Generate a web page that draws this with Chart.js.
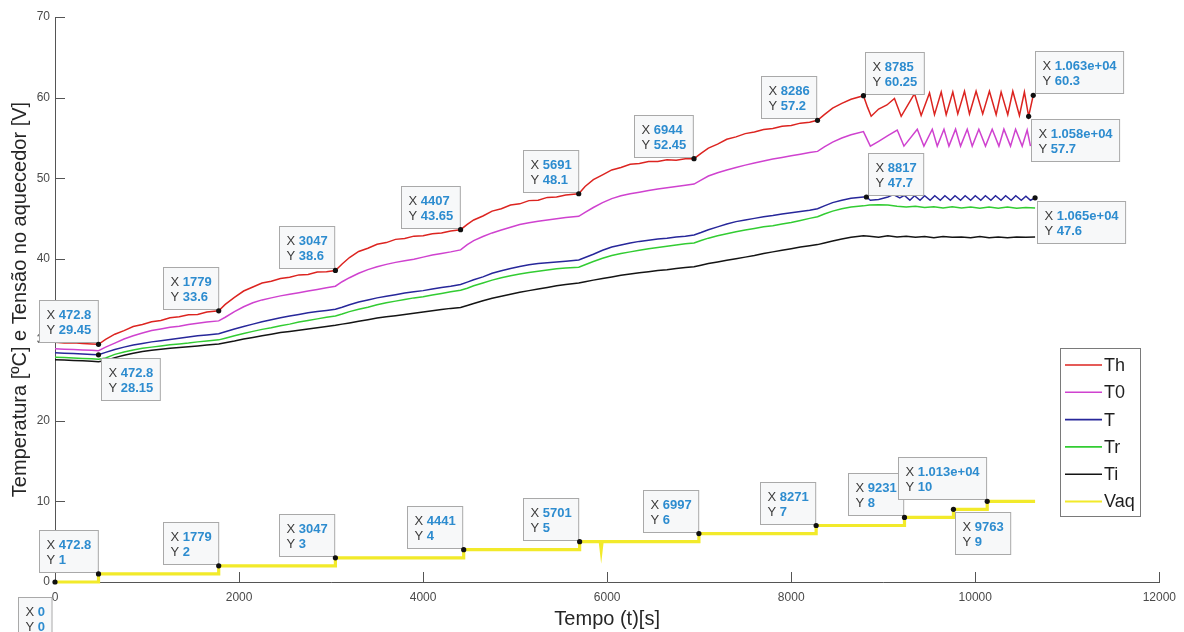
<!DOCTYPE html>
<html><head><meta charset="utf-8">
<script src="https://cdn.jsdelivr.net/npm/chart.js@4.4.1/dist/chart.umd.min.js"></script>
<style>html,body{margin:0;padding:0;background:#fff;}#wrap{width:1184px;height:632px;}</style>
</head><body><div id="wrap"><canvas id="c" width="1184" height="632"></canvas></div>
<script>
// ---- data ----
const baseTime = [0,100,200,300,400,472.8,
 550,650,750,850,950,1050,1150,1250,1350,1450,1550,1650,1779,
 1850,1950,2050,2150,2250,2350,2450,2550,2650,2750,2850,2950,3047,
 3120,3200,3300,3400,3500,3600,3700,3800,3900,4000,4100,4200,4300,4407,
 4480,4550,4650,4750,4850,4950,5050,5150,5250,5350,5450,5550,5691,
 5760,5850,5950,6050,6150,6250,6350,6450,6550,6650,6750,6850,6944,
 7020,7100,7200,7300,7400,7500,7600,7700,7800,7900,8000,8100,8200,8286,
 8360,8450,8550,8650,8785];
const thBase = [29.7,29.6,29.65,29.55,29.5,29.45,
 30.05,30.7,31.15,31.65,31.9,32.25,32.4,32.75,32.85,33.1,33.15,33.45,33.6,
 34.4,35.25,36.05,36.55,37.05,37.25,37.6,37.75,38.05,38.1,38.4,38.45,38.6,
 39.4,40.2,40.95,41.35,41.85,42.05,42.45,42.55,42.85,42.9,43.15,43.25,43.5,43.65,
 44.3,44.85,45.35,45.95,46.25,46.7,46.85,47.25,47.3,47.65,47.7,47.95,48.1,
 49.0,49.85,50.45,51.05,51.35,51.75,51.85,52.1,52.1,52.3,52.25,52.45,52.45,
 53.1,53.75,54.25,54.85,55.15,55.55,55.75,56.05,56.2,56.45,56.55,56.85,56.95,57.2,
 57.9,58.7,59.3,59.8,60.25];
const t0Base = [28.9,28.85,28.8,28.75,28.7,28.65,
 29.1,29.6,30.1,30.5,30.85,31.15,31.35,31.55,31.7,31.9,32.05,32.2,32.35,
 32.8,33.5,34.1,34.6,34.95,35.2,35.45,35.65,35.85,36.05,36.25,36.45,36.65,
 37.2,37.7,38.25,38.7,39.05,39.35,39.6,39.8,40.0,40.25,40.5,40.7,40.9,41.15,
 41.8,42.3,42.8,43.25,43.6,43.95,44.3,44.5,44.7,44.85,45.0,45.15,45.3,
 45.8,46.4,47.0,47.5,47.85,48.1,48.3,48.5,48.7,48.85,49.0,49.15,49.3,
 49.8,50.3,50.7,51.05,51.35,51.65,51.9,52.15,52.4,52.6,52.8,53.0,53.2,53.35,
 53.9,54.5,55.0,55.4,55.8];
const tBase = [28.4,28.35,28.3,28.25,28.2,28.15,
 28.45,28.8,29.1,29.35,29.55,29.75,29.9,30.05,30.2,30.35,30.5,30.6,30.75,
 31.0,31.35,31.65,31.95,32.25,32.5,32.75,32.95,33.15,33.35,33.5,33.65,33.8,
 34.05,34.35,34.7,34.95,35.2,35.4,35.6,35.8,35.95,36.1,36.3,36.5,36.65,36.85,
 37.15,37.45,37.8,38.25,38.55,38.85,39.1,39.3,39.45,39.55,39.65,39.75,39.9,
 40.2,40.6,41.1,41.5,41.75,42.0,42.2,42.35,42.5,42.6,42.75,42.85,43.0,
 43.3,43.65,44.0,44.35,44.65,44.85,45.05,45.25,45.4,45.6,45.75,45.9,46.05,46.25,
 46.6,47.0,47.3,47.55,47.7];
const trBase = [27.85,27.8,27.75,27.7,27.65,27.6,
 27.75,28.2,28.5,28.75,28.95,29.1,29.25,29.4,29.5,29.6,29.75,29.85,30.0,
 30.2,30.5,30.8,31.05,31.3,31.5,31.75,31.95,32.2,32.4,32.6,32.8,32.95,
 33.2,33.5,33.8,34.05,34.35,34.6,34.8,35.0,35.2,35.35,35.55,35.75,35.95,36.15,
 36.4,36.7,37.05,37.4,37.7,37.95,38.15,38.35,38.5,38.65,38.8,38.9,39.0,
 39.3,39.7,40.1,40.45,40.7,40.9,41.1,41.3,41.45,41.6,41.75,41.9,42.0,
 42.3,42.6,42.9,43.15,43.4,43.6,43.8,44.0,44.15,44.35,44.55,44.8,45.05,45.25,
 45.6,45.95,46.25,46.45,46.6];
const tiBase = [27.55,27.5,27.45,27.4,27.35,27.3,
 27.45,27.8,28.1,28.35,28.55,28.7,28.85,28.95,29.05,29.15,29.25,29.35,29.5,
 29.65,29.85,30.1,30.3,30.5,30.7,30.9,31.05,31.2,31.35,31.5,31.65,31.8,
 31.95,32.1,32.3,32.5,32.7,32.85,33.0,33.15,33.3,33.45,33.6,33.75,33.9,34.0,
 34.25,34.5,34.85,35.15,35.4,35.65,35.9,36.1,36.3,36.5,36.7,36.85,37.05,
 37.2,37.4,37.6,37.8,38.0,38.15,38.3,38.45,38.6,38.7,38.85,38.95,39.05,
 39.25,39.45,39.65,39.85,40.05,40.25,40.45,40.7,40.9,41.1,41.3,41.5,41.65,41.8,
 42.0,42.25,42.5,42.7,42.9];

const thOscTime = [8830,8869,8950,9040,9122,9195,9340,9412,9503,9557,9630,9684,9756,9810,9883,9937,10009,10081,10154,10227,10281,10353,10408,10480,10534,10580,10630];
const thOscVal  = [58.8,57.7,58.6,59.1,59.9,57.7,60.5,57.8,60.6,57.9,60.7,57.9,60.7,58.0,60.8,58.0,60.8,58.0,60.8,57.9,60.7,57.9,60.8,57.8,60.7,57.7,60.3];
const t0OscTime = [8860,8950,9050,9152,9225,9370,9442,9533,9587,9660,9714,9786,9840,9913,9967,10039,10111,10184,10257,10311,10383,10438,10510,10564,10600];
const t0OscVal  = [54.0,54.6,55.3,56.0,54.0,56.1,54.0,56.1,54.0,56.1,54.0,56.1,54.0,56.1,54.0,56.1,54.0,56.1,54.0,56.1,54.0,56.1,54.0,56.0,54.0];
const tOscTime = [8817,8860,8950,9050,9110,9180,9230,9290,9340,9400,9450,9510,9560,9620,9670,9730,9780,9840,9890,9950,10000,10060,10110,10170,10220,10280,10330,10390,10440,10500,10550,10600,10650];
const tOscVal  = [47.7,47.3,47.4,47.7,48.0,47.6,47.9,47.3,47.85,47.3,47.85,47.3,47.85,47.3,47.85,47.3,47.85,47.3,47.85,47.3,47.85,47.3,47.85,47.3,47.85,47.3,47.85,47.3,47.85,47.3,47.8,47.3,47.6];
const trOscTime = [8850,8950,9050,9150,9250,9350,9450,9550,9650,9750,9850,9950,10050,10150,10250,10350,10450,10550,10650];
const trOscVal  = [46.7,46.75,46.7,46.55,46.45,46.55,46.4,46.5,46.35,46.5,46.35,46.45,46.3,46.45,46.3,46.45,46.3,46.4,46.35];
const tiOscTime = [8850,8950,9050,9150,9250,9350,9450,9550,9650,9750,9850,9950,10050,10150,10250,10350,10450,10550,10650];
const tiOscVal  = [42.85,42.7,42.9,42.75,42.85,42.7,42.8,42.65,42.8,42.7,42.75,42.65,42.8,42.65,42.75,42.65,42.75,42.7,42.75];

const vaqTime = [0,472.8,472.8,1779,1779,3047,3047,4441,4441,5701,5701,5925,5935,5945,6997,6997,8271,8271,9231,9231,9763,9763,10130,10130,10650];
const vaqVal  = [0,0,1,1,2,2,3,3,4,4,5,5,4,5,5,6,6,7,7,8,8,9,9,10,10];

const seriesNames = ['Th','T0','T','Tr','Ti','Vaq'];
const xTickValues = [0,2000,4000,6000,8000,10000,12000];
const yTickValues = [0,10,20,30,40,50,60,70];

// data tips
const tipX = [472.8,1779,3047,4407,5691,6944,8286,8785,10630,10580,472.8,8817,10650,0,472.8,1779,3047,4441,5701,6997,8271,9231,10130,9763];
const tipY = [29.45,33.6,38.6,43.65,48.1,52.45,57.2,60.25,60.3,57.7,28.15,47.7,47.6,0,1,2,3,4,5,6,7,8,10,9];
const tipXLabel = ['472.8','1779','3047','4407','5691','6944','8286','8785','1.063e+04','1.058e+04','472.8','8817','1.065e+04','0','472.8','1779','3047','4441','5701','6997','8271','9231','1.013e+04','9763'];
const tipYLabel = ['29.45','33.6','38.6','43.65','48.1','52.45','57.2','60.25','60.3','57.7','28.15','47.7','47.6','0','1','2','3','4','5','6','7','8','10','9'];
const tipSide = ['ul','ul','ul','ul','ul','ul','ul','ur','ur','dr','dr','ur','dr','dl','ul','ul','ul','ul','ul','ul','ul','ul','ul','dr'];

// ---- build ----
const FONT = "'Liberation Sans', Arial, Helvetica, sans-serif";
const colors = ['#dc2420','#cf42cf','#27279a','#32cc32','#141414','#f2ea2a'];
function pairs(ts, vs){ return ts.map((t,i)=>({x:t, y:vs[i]})); }
const seriesData = [
  pairs(baseTime, thBase).concat(pairs(thOscTime, thOscVal)),
  pairs(baseTime, t0Base).concat(pairs(t0OscTime, t0OscVal)),
  pairs(baseTime, tBase).concat(pairs(tOscTime, tOscVal)),
  pairs(baseTime, trBase).concat(pairs(trOscTime, trOscVal)),
  pairs(baseTime, tiBase).concat(pairs(tiOscTime, tiOscVal)),
  pairs(vaqTime, vaqVal)
];
const datasets = seriesNames.map((n,i)=>({
  label:n, data:seriesData[i], borderColor:colors[i], backgroundColor:colors[i],
  borderWidth: i===5 ? 3.2 : 1.5, pointRadius:0, tension:0, fill:false, clip:false,
  order: i===5 ? -1 : i
}));

const inwardTicks = {
  id:'inwardTicks',
  beforeDatasetsDraw(chart){
    const {ctx, chartArea:a, scales:{x,y}} = chart;
    ctx.save(); ctx.strokeStyle='#555'; ctx.lineWidth=1; ctx.beginPath();
    xTickValues.forEach(v=>{ const p=Math.round(x.getPixelForValue(v))+0.5; ctx.moveTo(p,a.bottom); ctx.lineTo(p,a.bottom-10); });
    yTickValues.forEach(v=>{ const p=Math.round(y.getPixelForValue(v))+0.5; ctx.moveTo(a.left,p); ctx.lineTo(a.left+10,p); });
    ctx.stroke(); ctx.restore();
  }
};

const dataTips = {
  id:'dataTips',
  afterDraw(chart){
    const {ctx, scales:{x,y}} = chart;
    ctx.save();
    const pad=7, h=42;
    tipX.forEach((tx,i)=>{
      const px=x.getPixelForValue(tx), py=y.getPixelForValue(tipY[i]);
      ctx.font = "13px "+FONT; const wX = ctx.measureText('X ').width, wY = ctx.measureText('Y ').width;
      ctx.font = "bold 13px "+FONT;
      const w1 = wX + ctx.measureText(tipXLabel[i]).width, w2 = wY + ctx.measureText(tipYLabel[i]).width;
      const w = Math.max(w1,w2) + 2*pad;
      let bx, by; const s=tipSide[i];
      if(s==='ul'){ bx=px-1-w; by=py-2-h; }
      else if(s==='ur'){ bx=px+2; by=py-2-h; }
      else if(s==='dr'){ bx=px+2; by=py+3; }
      else { bx=px-3-w; by=py+15; }
      bx=Math.round(bx)+0.5; by=Math.round(by)+0.5;
      ctx.fillStyle='#f7f8f9'; ctx.strokeStyle='#a9a9a9'; ctx.lineWidth=1;
      ctx.fillRect(bx,by,w,h); ctx.strokeRect(bx,by,w,h);
      ctx.textBaseline='middle'; ctx.textAlign='left';
      ctx.font="13px "+FONT; ctx.fillStyle='#3c3c3c';
      ctx.fillText('X', bx+pad, by+15); ctx.fillText('Y', bx+pad, by+30);
      ctx.font="bold 13px "+FONT; ctx.fillStyle='#2d8ccf';
      ctx.fillText(tipXLabel[i], bx+pad+wX, by+15); ctx.fillText(tipYLabel[i], bx+pad+wY, by+30);
      ctx.fillStyle='#111'; ctx.beginPath(); ctx.arc(px,py,2.6,0,Math.PI*2); ctx.fill();
    });
    ctx.restore();
  }
};

const legendBox = {
  id:'legendBox',
  afterDraw(chart){
    const {ctx}=chart; ctx.save();
    const lx=1060.5, ly=348.5, lw=80, lh=168;
    ctx.fillStyle='#fff'; ctx.fillRect(lx,ly,lw,lh);
    ctx.strokeStyle='#7a7a7a'; ctx.lineWidth=1; ctx.strokeRect(lx,ly,lw,lh);
    ctx.font="18px "+FONT; ctx.textBaseline='middle'; ctx.textAlign='left';
    seriesNames.forEach((n,i)=>{
      const cy = 365 + i*27.3;
      ctx.strokeStyle=colors[i]; ctx.lineWidth = i===5?2:1.6;
      ctx.beginPath(); ctx.moveTo(1065,cy); ctx.lineTo(1102,cy); ctx.stroke();
      ctx.fillStyle='#1e1e1e'; ctx.fillText(n,1104,cy+1);
    });
    ctx.restore();
  }
};

new Chart(document.getElementById('c'), {
  type:'line',
  data:{datasets},
  plugins:[inwardTicks, dataTips, legendBox],
  options:{
    responsive:false, animation:false, devicePixelRatio:1,
    layout:{padding:{top:17,right:24,bottom:0,left:0}},
    plugins:{legend:{display:false}, tooltip:{enabled:false}},
    scales:{
      x:{type:'linear', min:0, max:12000,
        afterBuildTicks:(s)=>{ s.ticks = xTickValues.map(v=>({value:v})); },
        ticks:{color:'#4a4a4a', font:{family:FONT,size:12}, padding:8, maxRotation:0, autoSkip:false, callback:(v)=>String(v)},
        grid:{display:false, drawTicks:false}, border:{display:true, color:'#555'},
        title:{display:true, text:'Tempo (t)[s]', color:'#262626', font:{family:FONT,size:20}, padding:{top:0,bottom:1}},
        afterFit:(s)=>{ s.height=50; }
      },
      y:{min:0, max:70,
        afterBuildTicks:(s)=>{ s.ticks = yTickValues.map(v=>({value:v})); },
        ticks:{color:'#4a4a4a', font:{family:FONT,size:12}, padding:5, callback:(v)=>String(v)},
        grid:{display:false, drawTicks:false}, border:{display:true, color:'#555'},
        title:{display:true, text:'Temperatura [ºC] e Tensão no aquecedor [V]', color:'#262626', font:{family:FONT,size:20}, padding:{top:8,bottom:0}},
        afterFit:(s)=>{ s.width=55; }
      }
    }
  }
});
</script>
</body></html>
